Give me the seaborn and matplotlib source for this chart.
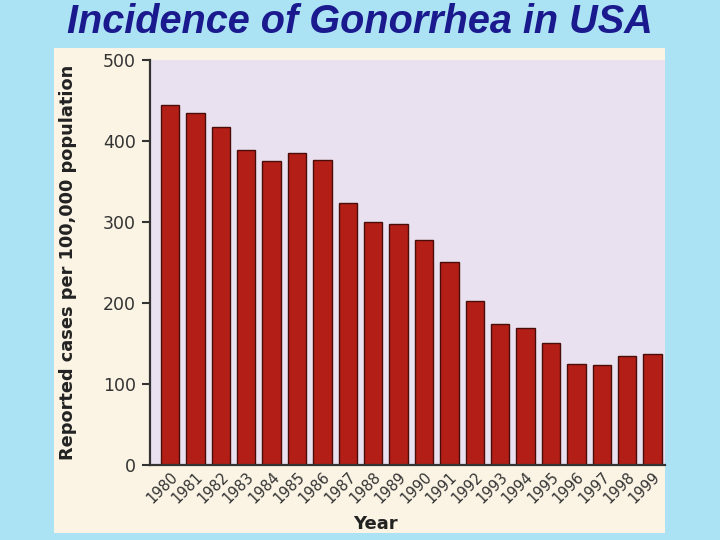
import matplotlib
matplotlib.use("Agg")
import matplotlib.pyplot as plt
import seaborn as sns
import pandas as pd
from matplotlib.patches import Rectangle

years = [str(y) for y in range(1980, 2000)]
cases = [445, 435, 417, 389, 375, 385, 377, 323, 300, 297,
         278, 251, 202, 174, 169, 151, 125, 124, 135, 137]
yticks = [0, 100, 200, 300, 400, 500]

df = pd.DataFrame({"Year": years, "Cases": cases})

sns.set_style("white")
plt.rcParams['font.family'] = ['DejaVu Sans']

fig = plt.figure(figsize=(7.2, 5.4), dpi=100)
fig.patch.set_facecolor('#ABE3F4')

# cream panel
fig.patches.append(Rectangle((54/720, 7/540), (665-54)/720, (533-48)/540,
                             transform=fig.transFigure, facecolor='#FBF4E4',
                             edgecolor='none', zorder=-10))

ax = fig.add_axes([150/720, 75/540, 515/720, 405/540])
ax.set_zorder(5)
ax.set_facecolor('#E9E1F0')

sns.barplot(data=df, x="Year", y="Cases", color='#B31E16', width=0.72,
            edgecolor='#4a0d0a', linewidth=1.0, saturation=1, ax=ax)

ax.set_ylim(0, 500)
ax.set_xlim(-0.79, 19.49)
ax.set_yticks(yticks)
ax.set_yticklabels([str(t) for t in yticks], fontsize=12.5, color='#333333')
ax.tick_params(axis='y', length=6, width=1.5, color='#333333', pad=4, left=True)
ax.tick_params(axis='x', length=0, pad=3)
for lbl in ax.get_xticklabels():
    lbl.set_rotation(45)
    lbl.set_ha('right')
    lbl.set_va('top')
    lbl.set_rotation_mode('anchor')
    lbl.set_fontsize(10.5)
    lbl.set_color('#333333')

for s in ['top', 'right']:
    ax.spines[s].set_visible(False)
for s in ['left', 'bottom']:
    ax.spines[s].set_color('#333333')
    ax.spines[s].set_linewidth(1.6)

ax.set_xlabel('Year', fontsize=13, fontweight='bold', color='#222222')
ax.set_ylabel('Reported cases per 100,000 population', fontsize=12.8,
              fontweight='bold', color='#222222')
ax.xaxis.set_label_coords((375-150)/515, -(524-465)/405)
ax.xaxis.label.set_va('center')
ax.yaxis.set_label_coords(-(150-68)/515, 0.5)
ax.yaxis.label.set_va('center')

fig.text(0.5, 1 - 22/540, 'Incidence of Gonorrhea in USA', ha='center', va='center',
         fontsize=28.5, fontweight='bold', fontstyle='italic', color='#1A1A8E',
         family='Liberation Sans')

fig.savefig('out.png', dpi=100, facecolor=fig.get_facecolor())
